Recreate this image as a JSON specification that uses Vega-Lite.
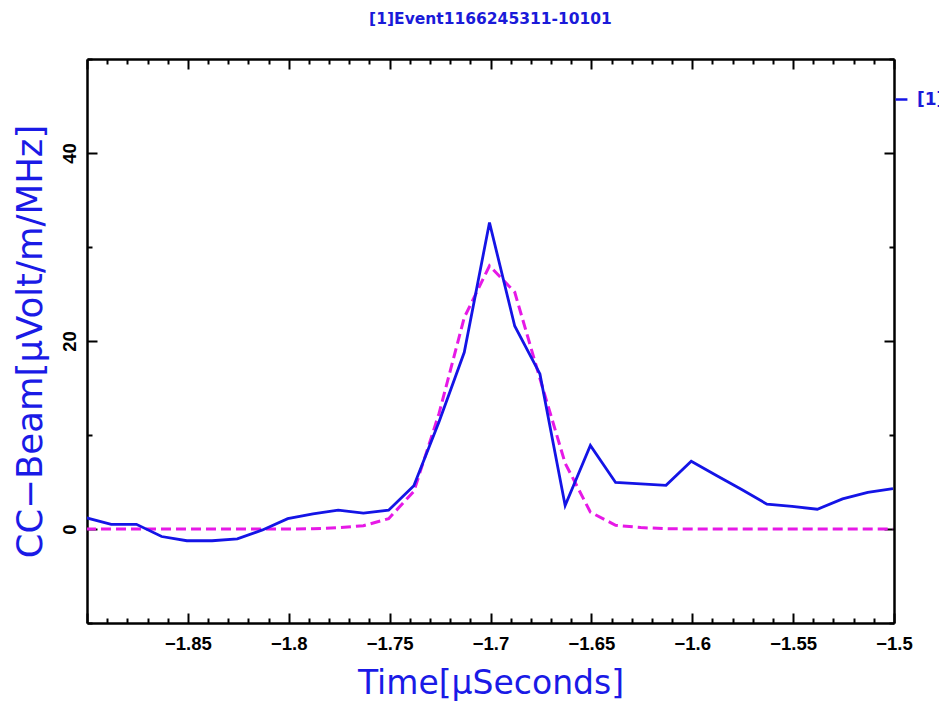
{
  "$schema": "https://vega.github.io/schema/vega-lite/v6.json",
  "width": 807,
  "height": 564,
  "autosize": {"type": "none"},
  "padding": {"left": 87, "top": 59, "right": 45, "bottom": 81},
  "background": "white",
  "title": {
    "text": "[1]Event1166245311-10101",
    "font": "DejaVu Sans",
    "fontSize": 15.5,
    "fontWeight": "bold",
    "color": "#1a1ad9",
    "anchor": "middle",
    "offset": 31
  },
  "config": {
    "view": {"stroke": null},
    "axis": {
      "grid": false,
      "domainColor": "black",
      "domainWidth": 2.5,
      "tickColor": "black",
      "tickWidth": 2,
      "labelFont": "Liberation Sans",
      "labelFontWeight": "bold",
      "labelFontSize": 18.5,
      "labelColor": "black",
      "labelOverlap": false,
      "labelFlush": false,
      "titleFont": "DejaVu Sans",
      "titleFontWeight": "normal",
      "titleFontSize": 33,
      "titleColor": "#1a1ae6"
    }
  },
  "datasets": {
    "beam": [
      {"t": -1.9005, "v": 1.2},
      {"t": -1.888, "v": 0.5},
      {"t": -1.8755, "v": 0.5},
      {"t": -1.863, "v": -0.8},
      {"t": -1.8505, "v": -1.25},
      {"t": -1.838, "v": -1.25},
      {"t": -1.8255, "v": -1.05},
      {"t": -1.813, "v": -0.1},
      {"t": -1.8005, "v": 1.1},
      {"t": -1.788, "v": 1.6},
      {"t": -1.7755, "v": 2.0},
      {"t": -1.763, "v": 1.7},
      {"t": -1.7505, "v": 2.0},
      {"t": -1.738, "v": 4.6},
      {"t": -1.7255, "v": 11.4},
      {"t": -1.713, "v": 18.8},
      {"t": -1.7005, "v": 32.6},
      {"t": -1.688, "v": 21.6},
      {"t": -1.6755, "v": 16.5},
      {"t": -1.663, "v": 2.5},
      {"t": -1.6505, "v": 8.9},
      {"t": -1.638, "v": 4.95},
      {"t": -1.6255, "v": 4.8},
      {"t": -1.613, "v": 4.65},
      {"t": -1.6005, "v": 7.2},
      {"t": -1.588, "v": 5.7},
      {"t": -1.5755, "v": 4.2},
      {"t": -1.563, "v": 2.65},
      {"t": -1.5505, "v": 2.4},
      {"t": -1.538, "v": 2.1},
      {"t": -1.5255, "v": 3.2},
      {"t": -1.513, "v": 3.9},
      {"t": -1.5005, "v": 4.3}
    ],
    "fit": [
      {"t": -1.9005, "v": 0},
      {"t": -1.888, "v": 0},
      {"t": -1.8755, "v": 0},
      {"t": -1.863, "v": 0},
      {"t": -1.8505, "v": 0},
      {"t": -1.838, "v": 0},
      {"t": -1.8255, "v": 0},
      {"t": -1.813, "v": 0},
      {"t": -1.8005, "v": 0},
      {"t": -1.788, "v": 0.02},
      {"t": -1.7755, "v": 0.15},
      {"t": -1.763, "v": 0.35},
      {"t": -1.7505, "v": 1.1},
      {"t": -1.738, "v": 4.0},
      {"t": -1.7255, "v": 12.3},
      {"t": -1.713, "v": 22.5},
      {"t": -1.7005, "v": 28.0},
      {"t": -1.688, "v": 25.2},
      {"t": -1.6755, "v": 16.0},
      {"t": -1.663, "v": 7.0},
      {"t": -1.6505, "v": 1.8},
      {"t": -1.638, "v": 0.4},
      {"t": -1.6255, "v": 0.15},
      {"t": -1.613, "v": 0.03},
      {"t": -1.6005, "v": 0},
      {"t": -1.588, "v": 0},
      {"t": -1.5755, "v": 0},
      {"t": -1.563, "v": 0},
      {"t": -1.5505, "v": 0},
      {"t": -1.538, "v": 0},
      {"t": -1.5255, "v": 0},
      {"t": -1.513, "v": 0},
      {"t": -1.5005, "v": 0}
    ]
  },
  "layer": [
    {
      "data": {"name": "fit"},
      "mark": {"type": "line", "color": "#e619e6", "strokeWidth": 3, "strokeDash": [10, 5], "clip": true},
      "encoding": {
        "x": {
          "field": "t", "type": "quantitative",
          "scale": {"domain": [-1.9, -1.5], "nice": false, "zero": false},
          "axis": {
            "orient": "top", "title": null, "labels": false,
            "values": [-1.9,-1.89,-1.88,-1.87,-1.86,-1.85,-1.84,-1.83,-1.82,-1.81,-1.8,-1.79,-1.78,-1.77,-1.76,-1.75,-1.74,-1.73,-1.72,-1.71,-1.7,-1.69,-1.68,-1.67,-1.66,-1.65,-1.64,-1.63,-1.62,-1.61,-1.6,-1.59,-1.58,-1.57,-1.56,-1.55,-1.54,-1.53,-1.52,-1.51,-1.5],
            "tickSize": {"condition": {"test": "abs(datum.value*20 - round(datum.value*20)) < 0.001", "value": -10}, "value": -5}
          }
        },
        "y": {
          "field": "v", "type": "quantitative",
          "scale": {"domain": [-10, 50], "nice": false, "zero": false},
          "axis": {
            "orient": "right", "title": null, "labels": false,
            "values": [-10, 0, 10, 20, 30, 40, 50],
            "tickSize": {"condition": {"test": "datum.value % 20 == 0", "value": -10}, "value": -5}
          }
        }
      }
    },
    {
      "data": {"name": "beam"},
      "mark": {"type": "line", "strokeWidth": 2.8, "clip": true},
      "encoding": {
        "x": {
          "field": "t", "type": "quantitative",
          "axis": {
            "orient": "bottom", "title": "Time[μSeconds]",
            "values": [-1.9,-1.89,-1.88,-1.87,-1.86,-1.85,-1.84,-1.83,-1.82,-1.81,-1.8,-1.79,-1.78,-1.77,-1.76,-1.75,-1.74,-1.73,-1.72,-1.71,-1.7,-1.69,-1.68,-1.67,-1.66,-1.65,-1.64,-1.63,-1.62,-1.61,-1.6,-1.59,-1.58,-1.57,-1.56,-1.55,-1.54,-1.53,-1.52,-1.51,-1.5],
            "tickSize": {"condition": {"test": "abs(datum.value*20 - round(datum.value*20)) < 0.001", "value": -10}, "value": -5},
            "labelExpr": "(abs(datum.value*20 - round(datum.value*20)) < 0.001 && datum.value > -1.89) ? format(datum.value, '~g') : ''",
            "labelPadding": 21,
            "titlePadding": 10
          }
        },
        "y": {
          "field": "v", "type": "quantitative",
          "axis": {
            "orient": "left", "title": "CC−Beam[μVolt/m/MHz]",
            "titleFontSize": 35.5,
            "values": [-10, 0, 10, 20, 30, 40, 50],
            "tickSize": {"condition": {"test": "datum.value % 20 == 0", "value": -10}, "value": -5},
            "labelExpr": "(datum.value % 20 == 0) ? format(datum.value, 'd') : ''",
            "labelAngle": -90,
            "labelAlign": "center",
            "labelBaseline": "bottom",
            "labelPadding": 18,
            "titlePadding": 7
          }
        },
        "color": {
          "datum": "[1]",
          "type": "nominal",
          "scale": {"range": ["#1414e6"]},
          "legend": {
            "orient": "none",
            "legendX": 806,
            "legendY": 32,
            "title": null,
            "symbolType": "stroke",
            "symbolStrokeWidth": 2.5,
            "symbolSize": 140,
            "labelFont": "DejaVu Sans",
            "labelFontWeight": "bold",
            "labelFontSize": 17,
            "labelColor": "#1a1ad9",
            "labelOffset": 7,
            "padding": 0
          }
        }
      }
    }
  ],
  "resolve": {"axis": {"x": "independent", "y": "independent"}}
}
